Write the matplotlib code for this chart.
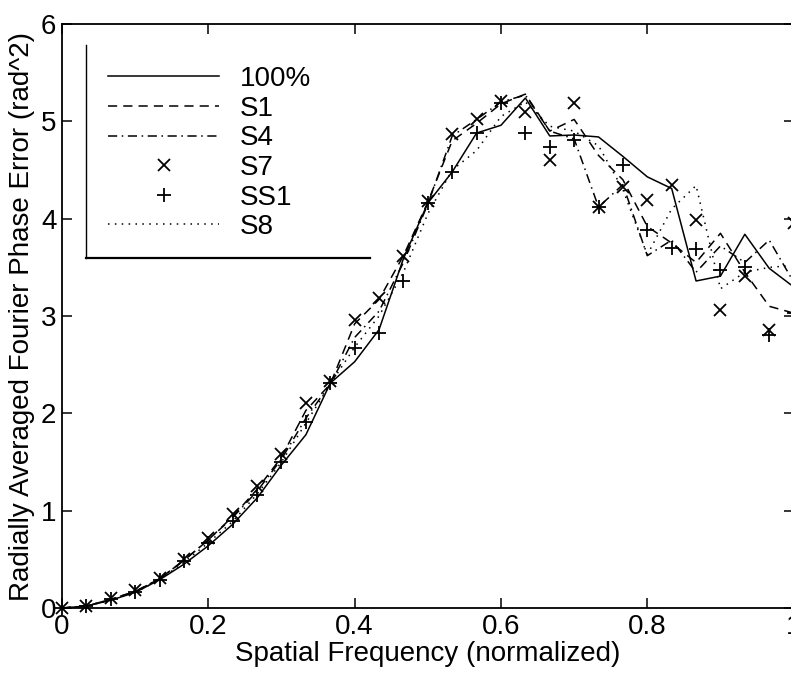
#!/usr/bin/env python3
"""Radially averaged Fourier phase error against spatial frequency."""

import matplotlib

matplotlib.use("Agg")
import matplotlib.pyplot as plt
from matplotlib.lines import Line2D

plt.rcParams["font.family"] = ["Liberation Sans Narrow", "Liberation Sans", "DejaVu Sans"]

# normalized spatial frequency, 31 radial bins
freq = [k / 30 for k in range(31)]

full = [0, 0.02, 0.08, 0.16, 0.29, 0.45, 0.64, 0.86, 1.13, 1.47, 1.78,
        2.31, 2.53, 2.86, 3.59, 4.16, 4.48, 4.88, 4.96, 5.24, 4.85,
        4.86, 4.84, 4.64, 4.43, 4.31, 3.36, 3.41, 3.84, 3.49, 3.30]
s1 = [0, 0.02, 0.09, 0.17, 0.30, 0.49, 0.70, 0.94, 1.22, 1.55, 2.03,
      2.30, 2.92, 3.17, 3.62, 4.17, 4.80, 4.98, 5.18, 5.28, 4.90,
      5.02, 4.65, 4.40, 3.92, 3.75, 3.55, 3.85, 3.45, 3.10, 3.03]
s4 = [0, 0.02, 0.09, 0.17, 0.30, 0.49, 0.70, 0.93, 1.20, 1.53, 1.95,
      2.30, 2.78, 3.05, 3.55, 4.15, 4.85, 5.02, 5.20, 5.27, 4.90,
      4.82, 4.12, 4.35, 3.62, 3.78, 3.45, 3.72, 3.55, 3.78, 3.35]
s7 = [0, 0.02, 0.10, 0.18, 0.31, 0.50, 0.72, 0.97, 1.25, 1.58, 2.11,
      2.33, 2.96, 3.19, 3.62, 4.18, 4.87, 5.02, 5.21, 5.10, 4.60,
      5.19, 4.12, 4.33, 4.19, 4.35, 3.99, 3.06, 3.41, 2.86, 3.96]
ss1 = [0, 0.02, 0.09, 0.16, 0.29, 0.48, 0.67, 0.89, 1.16, 1.50, 1.91,
       2.31, 2.67, 2.83, 3.36, 4.16, 4.48, 4.88, 5.19, 4.88, 4.74,
       4.81, 4.12, 4.55, 3.88, 3.70, 3.69, 3.47, 3.50, 2.80, 3.03]
s8 = [0, 0.02, 0.08, 0.16, 0.29, 0.47, 0.67, 0.89, 1.17, 1.50, 1.90,
      2.30, 2.68, 3.00, 3.45, 4.05, 4.50, 4.70, 5.05, 5.20, 4.95,
      4.90, 4.75, 4.30, 3.63, 4.10, 4.34, 3.28, 3.45, 3.50, 3.52]

labels = ["100%", "S1", "S4", "S7", "SS1", "S8"]
xticks = [0, 0.2, 0.4, 0.6, 0.8, 1]
yticks = [0, 1, 2, 3, 4, 5, 6]

fig = plt.figure(figsize=(7.91, 6.77), dpi=100)
ax = fig.add_axes([0.0784, 0.1019, 0.9249, 0.8626])

lw = 1.1
ax.plot(freq, full, color="black", lw=lw, label=labels[0], clip_on=False)
ax.plot(freq, s1, color="black", lw=lw, dashes=(6, 4), label=labels[1], clip_on=False)
ax.plot(freq, s4, color="black", lw=lw, dashes=(6, 3, 1, 3), label=labels[2], clip_on=False)
ax.plot(freq, s7, ls="none", marker="x", ms=8.5, mew=1.3, color="black",
        label=labels[3], clip_on=False)
ax.plot(freq, ss1, ls="none", marker="+", ms=9.5, mew=1.3, color="black",
        label=labels[4], clip_on=False)
ax.plot(freq, s8, color="black", lw=lw, dashes=(1, 3.5), label=labels[5], clip_on=False)

ax.set_xlim(0, 1)
ax.set_ylim(0, 6)
ax.set_xticks(xticks, labels=["0", "0.2", "0.4", "0.6", "0.8", "1"])
ax.set_yticks(yticks)
ax.tick_params(direction="in", length=7, width=1.1, labelsize=20,
               top=True, right=True, pad=4)
for spine in ax.spines.values():
    spine.set_linewidth(1.3)
ax.set_xlabel("Spatial Frequency (normalized)", fontsize=20, labelpad=1)
ax.set_ylabel("Radially Averaged Fourier Phase Error (rad^2)", fontsize=20, labelpad=4)

leg = ax.legend(loc="upper left", bbox_to_anchor=(0.048, 0.947), frameon=False,
                fontsize=20, handlelength=4.0, handletextpad=0.75,
                labelspacing=0.13, numpoints=1, borderaxespad=0)

# the legend box only shows its left and bottom edges
ax.add_line(Line2D([0.033, 0.033], [0.599, 0.964], transform=ax.transAxes,
                   color="black", lw=1.0))
ax.add_line(Line2D([0.033, 0.421], [0.599, 0.599], transform=ax.transAxes,
                   color="black", lw=1.6))

fig.savefig("out.png", dpi=100)
